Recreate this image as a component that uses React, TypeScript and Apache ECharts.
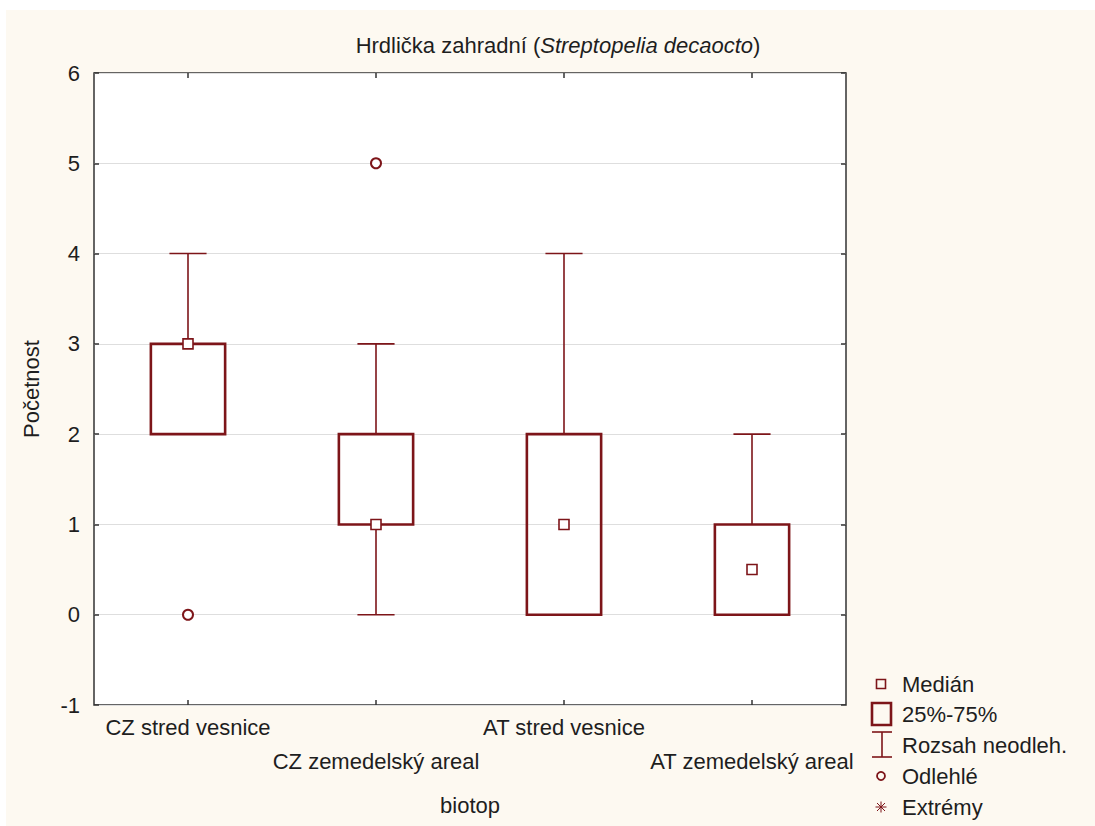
import React, { useEffect, useRef } from "react";
import * as echarts from "echarts";

const categories = ["CZ stred vesnice", "CZ zemedelský areal", "AT stred vesnice", "AT zemedelský areal"];
const whiskerLow = [2, 0, 0, 0];
const quartile1 = [2, 1, 0, 0];
const medians = [3, 1, 1, 0.5];
const quartile3 = [3, 2, 2, 1];
const whiskerHigh = [4, 3, 4, 2];
const outlierPoints: [number, number][] = [
  [0, 0],
  [1, 5],
];
const yTicks = { min: -1, max: 6, interval: 1 };
const legendLabels = ["Medián", "25%-75%", "Rozsah neodleh.", "Odlehlé", "Extrémy"];

const RED = "#7d1519";
const FONT = "Liberation Sans, Arial, sans-serif";
const TXT = "#1e1e1e";
const FS = 22;

export default function App() {
  const ref = useRef<HTMLDivElement>(null);
  useEffect(() => {
    if (!ref.current) return;
    const chart = echarts.init(ref.current, undefined, { renderer: "svg" });
    const boxData = categories.map((c, i) => [i, whiskerLow[i], quartile1[i], quartile3[i], whiskerHigh[i]]);
    const ox = 6;
    const oy = 10;
    const lx = 881 - ox;
    const tx = 902 - ox;
    const ly = [684, 714, 745, 776, 807].map((v) => v - oy);
    const ast = 5.5;
    const tick = { show: true, inside: true, alignWithLabel: true, length: 5, lineStyle: { color: "#333", width: 1.5 } };
    const option: any = {
      animation: false,
      backgroundColor: "#fdf9f1",
      textStyle: { fontFamily: FONT },
      grid: {
        left: 88,
        top: 63,
        right: 249,
        bottom: 121,
        show: true,
        backgroundColor: "#ffffff",
        borderColor: "#333",
        borderWidth: 1.5,
      },
      xAxis: [
        {
          type: "category",
          data: categories,
          position: "bottom",
          name: "biotop",
          nameLocation: "middle",
          nameGap: 89,
          nameTextStyle: { fontSize: FS, color: TXT, fontFamily: FONT },
          axisLine: { show: false, onZero: false },
          axisTick: tick,
          axisLabel: {
            interval: 0,
            fontSize: FS,
            color: TXT,
            fontFamily: FONT,
            margin: 5,
            lineHeight: 34,
            hideOverlap: false,
            formatter: (v: string, i: number) => (i % 2 === 1 ? "\n" + v : v),
          },
          splitLine: { show: false },
        },
        {
          type: "category",
          data: categories,
          position: "top",
          axisLine: { show: false, onZero: false },
          axisTick: tick,
          axisLabel: { show: false },
        },
      ],
      yAxis: [
        {
          type: "value",
          min: yTicks.min,
          max: yTicks.max,
          interval: yTicks.interval,
          name: "Početnost",
          nameLocation: "middle",
          nameGap: 52,
          nameTextStyle: { fontSize: FS, color: TXT, fontFamily: FONT },
          axisLine: { show: false, onZero: false },
          axisTick: { show: true, inside: true, length: 5, lineStyle: { color: "#333", width: 1.5 } },
          axisLabel: { fontSize: FS, color: TXT, fontFamily: FONT, margin: 14 },
          splitLine: { show: true, lineStyle: { color: "#dedede", width: 1.2 } },
        },
        {
          type: "value",
          min: yTicks.min,
          max: yTicks.max,
          interval: yTicks.interval,
          position: "right",
          axisLine: { show: false, onZero: false },
          axisTick: { show: true, inside: true, length: 5, lineStyle: { color: "#333", width: 1.5 } },
          axisLabel: { show: false },
          splitLine: { show: false },
        },
      ],
      series: [
        {
          type: "custom",
          name: "box",
          xAxisIndex: 0,
          yAxisIndex: 0,
          data: boxData,
          encode: { x: 0, y: [1, 2, 3, 4] },
          z: 2,
          renderItem: (params: any, api: any) => {
            const idx = api.value(0);
            const lo = api.coord([idx, api.value(1)]);
            const b1 = api.coord([idx, api.value(2)]);
            const b3 = api.coord([idx, api.value(3)]);
            const hi = api.coord([idx, api.value(4)]);
            const band = api.size([1, 0])[0];
            const bw = band * 0.395;
            const cw = bw / 2;
            const x = lo[0];
            const ws = { stroke: RED, lineWidth: 1.6 };
            const children: any[] = [];
            if (hi[1] < b3[1] - 0.5) {
              children.push({ type: "line", shape: { x1: x, y1: b3[1], x2: x, y2: hi[1] }, style: ws });
            }
            children.push({ type: "line", shape: { x1: x - cw / 2, y1: hi[1], x2: x + cw / 2, y2: hi[1] }, style: ws });
            if (lo[1] > b1[1] + 0.5) {
              children.push({ type: "line", shape: { x1: x, y1: b1[1], x2: x, y2: lo[1] }, style: ws });
            }
            children.push({ type: "line", shape: { x1: x - cw / 2, y1: lo[1], x2: x + cw / 2, y2: lo[1] }, style: ws });
            children.push({
              type: "rect",
              shape: { x: x - bw / 2, y: b3[1], width: bw, height: b1[1] - b3[1] },
              style: { fill: "rgba(255,255,255,0)", stroke: RED, lineWidth: 2.6 },
            });
            return { type: "group", children };
          },
        },
        {
          type: "scatter",
          name: "Medián",
          data: medians.map((m, i) => [i, m]),
          symbol: "rect",
          symbolSize: 10,
          itemStyle: { color: "#ffffff", borderColor: RED, borderWidth: 1.6, opacity: 1 },
          z: 4,
        },
        {
          type: "scatter",
          name: "Odlehlé",
          data: outlierPoints,
          symbol: "circle",
          symbolSize: 10,
          itemStyle: { color: "#ffffff", borderColor: RED, borderWidth: 2, opacity: 1 },
          z: 4,
        },
      ],
      graphic: [
        {
          type: "text",
          x: 552,
          y: 35,
          style: {
            text: "{n|Hrdlička zahradní (}{i|Streptopelia decaocto}{n|)}",
            align: "center",
            verticalAlign: "middle",
            rich: {
              n: { fontSize: FS, fontFamily: FONT, fill: TXT, fontStyle: "normal" },
              i: { fontSize: FS, fontFamily: FONT, fill: TXT, fontStyle: "italic" },
            },
          },
        },
        {
          type: "rect",
          shape: { x: lx - 4.5, y: ly[0] - 4.5, width: 9, height: 9 },
          style: { fill: "none", stroke: RED, lineWidth: 1.6 },
        },
        {
          type: "rect",
          shape: { x: lx - 9, y: ly[1] - 11, width: 19, height: 22 },
          style: { fill: "none", stroke: RED, lineWidth: 2.6 },
        },
        {
          type: "line",
          shape: { x1: lx + 1, y1: ly[2] - 13, x2: lx + 1, y2: ly[2] + 12 },
          style: { stroke: RED, lineWidth: 1.6 },
        },
        {
          type: "line",
          shape: { x1: lx - 9, y1: ly[2] - 13, x2: lx + 11, y2: ly[2] - 13 },
          style: { stroke: RED, lineWidth: 1.6 },
        },
        {
          type: "line",
          shape: { x1: lx - 9, y1: ly[2] + 12, x2: lx + 11, y2: ly[2] + 12 },
          style: { stroke: RED, lineWidth: 1.6 },
        },
        {
          type: "circle",
          shape: { cx: lx, cy: ly[3], r: 4 },
          style: { fill: "none", stroke: RED, lineWidth: 1.8 },
        },
        { type: "line", shape: { x1: lx - ast, y1: ly[4], x2: lx + ast, y2: ly[4] }, style: { stroke: RED, lineWidth: 1 } },
        { type: "line", shape: { x1: lx, y1: ly[4] - ast, x2: lx, y2: ly[4] + ast }, style: { stroke: RED, lineWidth: 1 } },
        { type: "line", shape: { x1: lx - 4, y1: ly[4] - 4, x2: lx + 4, y2: ly[4] + 4 }, style: { stroke: RED, lineWidth: 1 } },
        { type: "line", shape: { x1: lx - 4, y1: ly[4] + 4, x2: lx + 4, y2: ly[4] - 4 }, style: { stroke: RED, lineWidth: 1 } },
        ...legendLabels.map((t, i) => ({
          type: "text",
          x: tx,
          y: ly[i],
          style: { text: t, fontSize: FS, fontFamily: FONT, fill: TXT, align: "left", verticalAlign: "middle" },
        })),
      ],
    };
    chart.setOption(option);
    return () => chart.dispose();
  }, []);
  return (
    <div style={{ position: "absolute", left: 0, top: 0, width: 1095, height: 826, background: "#ffffff" }}>
      <div ref={ref} style={{ position: "absolute", left: 6, top: 10, width: 1089, height: 816 }} />
    </div>
  );
}
